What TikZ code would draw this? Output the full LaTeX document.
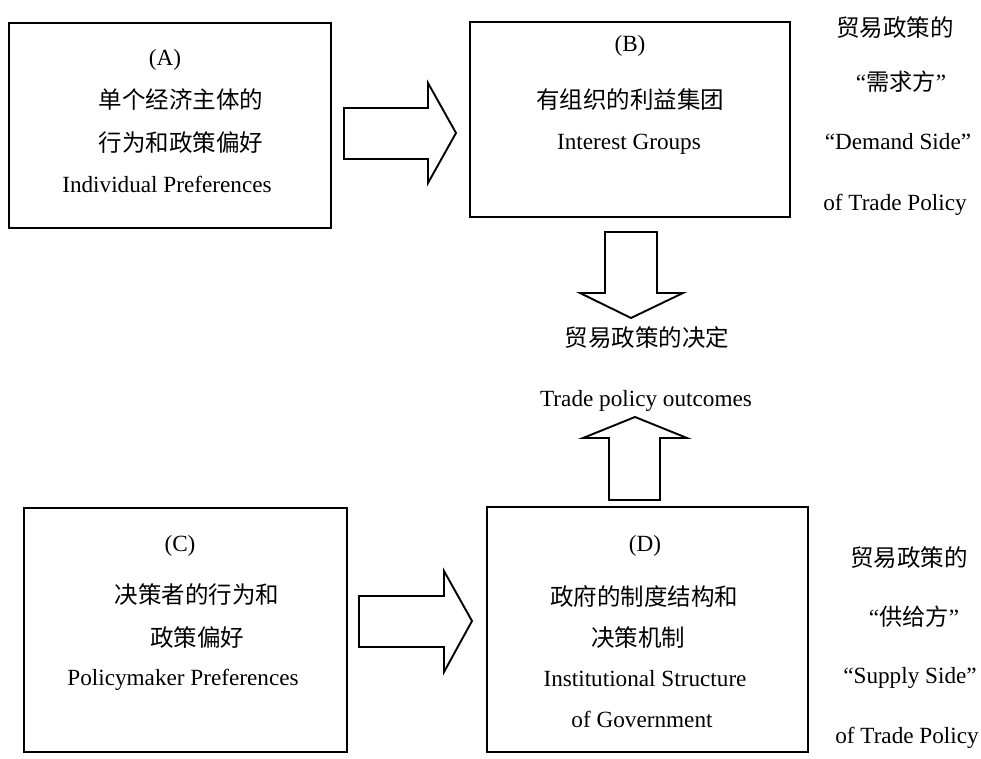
\documentclass[tikz,border=0pt]{standalone}
\usepackage{fontspec}
\setmainfont{Liberation Serif}
\newfontfamily\cjk{Noto Sans CJK SC}
\tikzset{
  box/.style={draw=black, line width=1.9pt},
  blockarrow/.style={draw=black, line width=1.9pt, line join=miter, fill=white},
  en/.style={font=\fontsize{23.2}{26}\selectfont, inner sep=0pt},
  zh/.style={font=\fontsize{23.5}{26}\selectfont\cjk, inner sep=0pt},
}
\begin{document}
\begin{tikzpicture}[x=1pt, y=-1pt]
\useasboundingbox (0,0) rectangle (981,759);
% boxes
\draw[box] (9,23) rectangle (331,228);
\draw[box] (470,22) rectangle (790,217);
\draw[box] (24,508) rectangle (347,752);
\draw[box] (487,507) rectangle (808,752);
% box A
\node[en] (a0) at (165,60) {(A)};
\node[zh] (a1) at (181,100) {单个经济主体的};
\node[zh] (a2) at (181,143) {行为和政策偏好};
\node[en] (a3) at (167,184) {Individual Preferences};
% box B
\node[en] (b0) at (630,46) {(B)};
\node[zh] (b1) at (630,100) {有组织的利益集团};
\node[en] (b2) at (629,144) {Interest Groups};
% box C
\node[en] (c0) at (180,546) {(C)};
\node[zh] (c1) at (197,595) {决策者的行为和};
\node[zh] (c2) at (197,638) {政策偏好};
\node[en] (c3) at (183,680) {Policymaker Preferences};
% box D
\node[en] (d0) at (645,546) {(D)};
\node[zh] (d1) at (644,597) {政府的制度结构和};
\node[zh] (d2) at (638,638) {决策机制};
\node[en] (d3) at (645,679) {Institutional Structure};
\node[en] (d4) at (642,719) {of Government};
% outcome
\node[zh] (o1) at (647,338) {贸易政策的决定};
\node[en] (o2) at (646,401) {Trade policy outcomes};
% right side top
\node[zh] (r1) at (895,28) {贸易政策的};
\node[en] (r2) at (901,82) {“{\cjk 需求方}”};
\node[en] (r3) at (898,142) {“Demand Side”};
\node[en] (r4) at (895,205) {of Trade Policy};
% right side bottom
\node[zh] (s1) at (909,558) {贸易政策的};
\node[en] (s2) at (914,617) {“{\cjk 供给方}”};
\node[en] (s3) at (910,678) {“Supply Side”};
\node[en] (s4) at (907,738) {of Trade Policy};
% block arrows
\draw[blockarrow] (344,108) -- (428,108) -- (428,83) -- (456,133) -- (428,183) -- (428,159) -- (344,159) -- cycle;
\draw[blockarrow] (605,232) -- (657,232) -- (657,293) -- (683,293) -- (631,318) -- (580,293) -- (605,293) -- cycle;
\draw[blockarrow] (609,500) -- (660,500) -- (660,438) -- (687,438) -- (635,417) -- (583,438) -- (609,438) -- cycle;
\draw[blockarrow] (359,596) -- (444,596) -- (444,571) -- (472,621) -- (444,672) -- (444,647) -- (359,647) -- cycle;
\end{tikzpicture}
\end{document}
